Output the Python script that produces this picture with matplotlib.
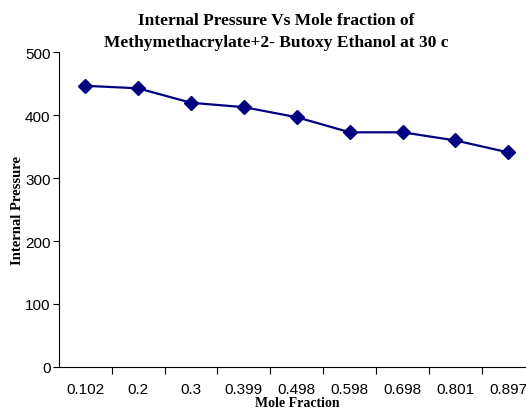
import numpy as np
import matplotlib.pyplot as plt

# data
mole_fraction = ["0.102", "0.2", "0.3", "0.399", "0.498", "0.598", "0.698", "0.801", "0.897"]
internal_pressure = [447, 443, 420, 413, 397, 373, 373, 360, 341]

serif = ["Liberation Serif", "DejaVu Serif"]
sans = ["Liberation Sans", "DejaVu Sans"]

fig = plt.figure(figsize=(5.26, 4.14), dpi=100)
ax = fig.add_axes([0.1118, 0.1118, 0.905, 0.759])

x = np.arange(len(mole_fraction))
ax.plot(x, internal_pressure, color="#000080", linewidth=1.6,
        marker="D", markersize=7.5, markerfacecolor="#000080", markeredgecolor="#000080")

ax.set_xlim(-0.5, len(mole_fraction) - 0.5)
ax.set_ylim(0, 500)
ax.set_yticks(np.arange(0, 501, 100))

# category labels centred on points, tick marks between categories
ax.set_xticks(x)
ax.set_xticklabels(mole_fraction, family=sans, fontsize=11)
ax.tick_params(axis="x", which="major", length=0, pad=11)
ax.set_xticks(np.arange(len(mole_fraction)) + 0.5, minor=True)
ax.tick_params(axis="x", which="minor", length=5, width=0.8, direction="out")
ax.tick_params(axis="y", length=4, width=0.8, direction="out", pad=2)
for lbl in ax.get_yticklabels():
    lbl.set_family(sans)
    lbl.set_fontsize(11)

for side in ["top", "right"]:
    ax.spines[side].set_visible(False)
for side in ["left", "bottom"]:
    ax.spines[side].set_linewidth(0.8)

ax.set_xlabel("Mole Fraction", family=serif, fontweight="bold", fontsize=10, labelpad=0)
ax.set_ylabel("Internal Pressure", family=serif, fontweight="bold", fontsize=10.5, labelpad=1)

fig.text(0.525, 0.968, "Internal Pressure Vs Mole fraction of\nMethymethacrylate+2- Butoxy Ethanol at 30 c",
         ha="center", va="top", family=serif, fontweight="bold", fontsize=12.5, linespacing=1.5)

fig.savefig("out.png", dpi=100)
